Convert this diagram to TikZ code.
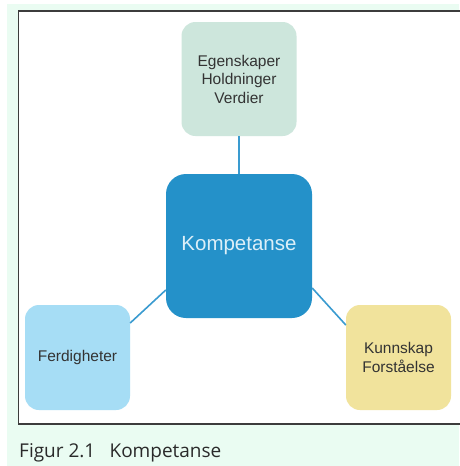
\documentclass[tikz,border=0pt]{standalone}
\usepackage{fontspec}
\setmainfont{Liberation Sans}
\newfontfamily\capfont{Open Sans}
\definecolor{mint}{HTML}{EAFCF2}
\definecolor{framegray}{HTML}{3C3C3C}
\definecolor{boxgreen}{HTML}{CDE6DC}
\definecolor{boxblue}{HTML}{2491C9}
\definecolor{boxsky}{HTML}{A6DDF5}
\definecolor{boxyellow}{HTML}{F1E39C}
\definecolor{linkblue}{HTML}{3A9BD0}
\definecolor{txtgray}{HTML}{333333}
\definecolor{captxt}{HTML}{2A2A2A}
\definecolor{txtlight}{HTML}{DCEFF8}
\begin{document}
\begin{tikzpicture}[x=1pt,y=-1pt,
  card/.style={rounded corners=14pt, inner sep=0pt, align=center,
    text=txtgray, font=\fontsize{15.5}{18.5}\selectfont},
  link/.style={draw=linkblue, line width=1.6pt}]
\useasboundingbox (0,0) rectangle (459,466);
% page background and figure frame
\fill[mint] (7,4) rectangle (459,466);
\fill[white] (18,11) rectangle (459,424);
\draw[framegray, line width=1.6pt] (462,11) -- (18.5,11) -- (18.5,424) -- (462,424);
% boxes
\node[card, fill=boxgreen, minimum width=115pt, minimum height=114pt] (traits) at (239,79) {Egenskaper\\Holdninger\\Verdier};
\node[card, fill=boxblue, rounded corners=20pt, minimum width=146pt, minimum height=144pt,
  text=txtlight, font=\fontsize{20.5}{24}\selectfont] (core) at (239,246) {Kompetanse};
\node[card, fill=boxsky, minimum width=105pt, minimum height=105pt] (skills) at (77.5,357.5) {Ferdigheter};
\node[card, fill=boxyellow, minimum width=105pt, minimum height=105pt] (knowledge) at (398.5,357.5) {Kunnskap\\Forståelse};
% connectors
\draw[link] (traits.south) -- (core.north);
\draw[link] (core.west |- 0,290) -- (skills.east |- 0,323);
\draw[link] (core.east |- 0,288) -- (knowledge.west |- 0,325);
% caption
\node[anchor=base west, inner sep=0pt, text=captxt, font=\capfont\fontsize{19}{22}\selectfont] (caption) at (19,457) {Figur 2.1\hspace{0.75em}Kompetanse};
\end{tikzpicture}
\end{document}
